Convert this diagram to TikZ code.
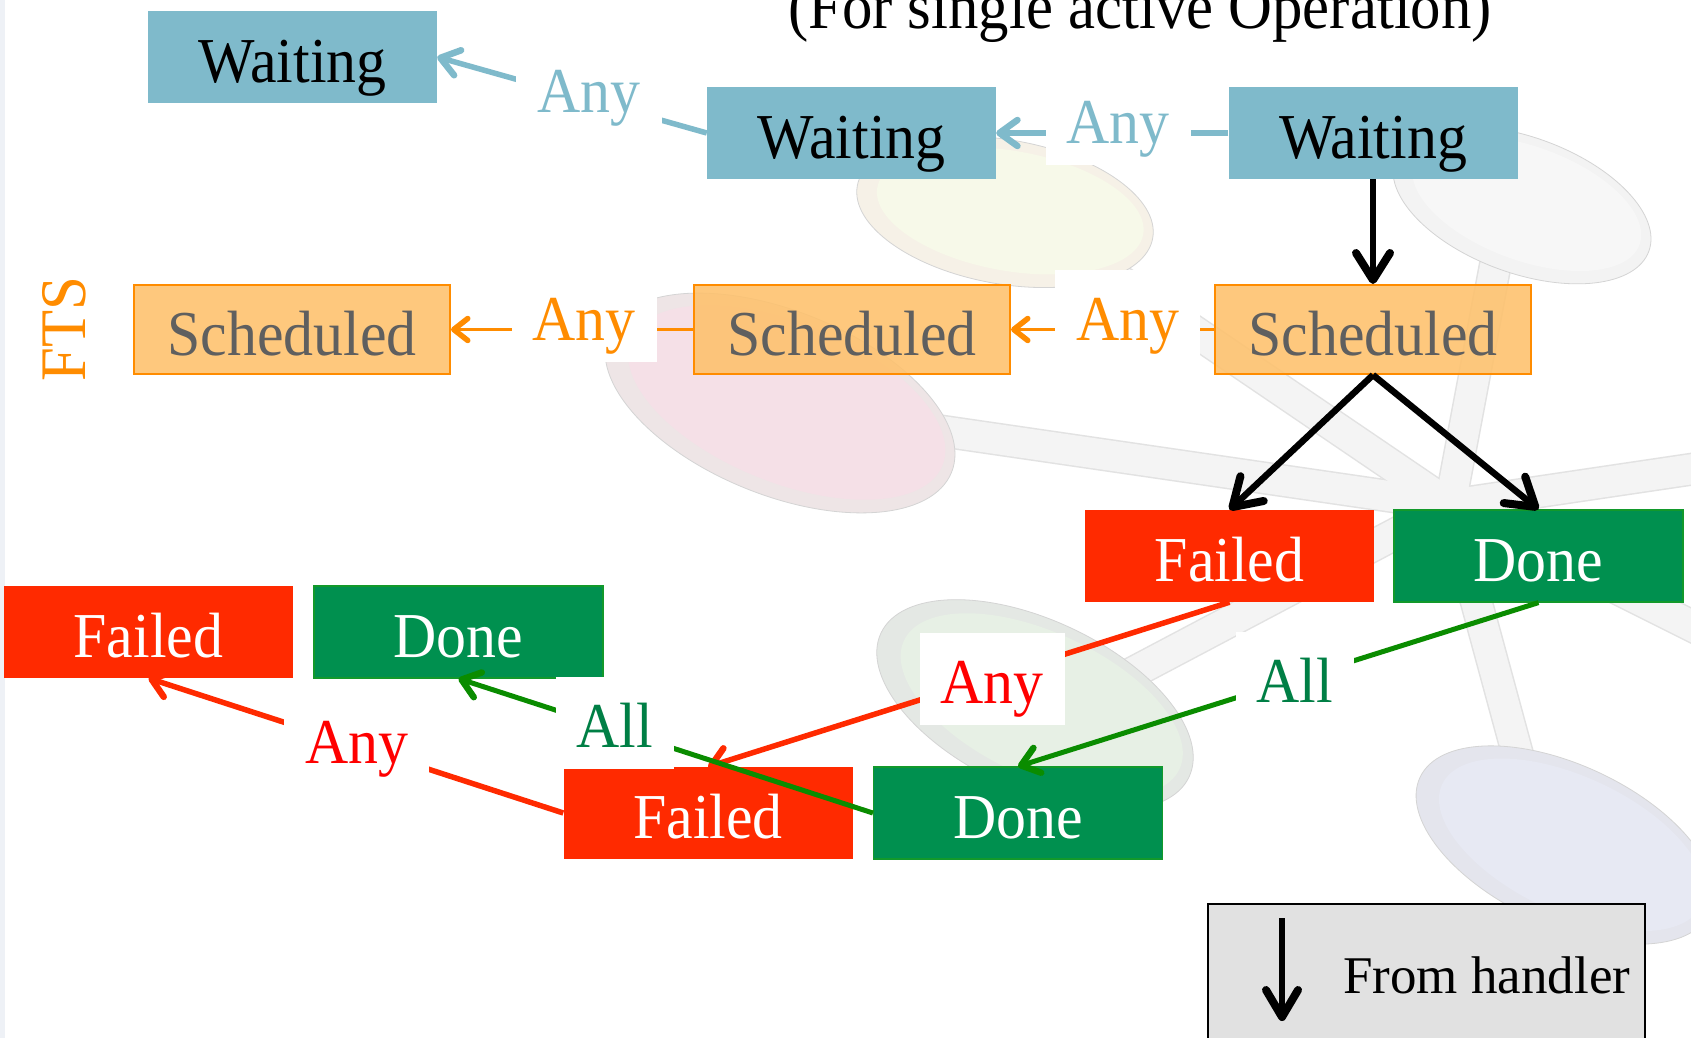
\documentclass[tikz,border=0pt]{standalone}
\usepackage{fontspec}
\setmainfont[FakeStretch=0.935]{Liberation Serif}
\newfontfamily\legendfont{Liberation Serif}
\usetikzlibrary{arrows.meta}
\definecolor{waitfill}{HTML}{7FBACB}
\definecolor{schedfill}{HTML}{FEC16C}
\definecolor{schedline}{HTML}{FF8C00}
\definecolor{schedtext}{HTML}{5F5F5F}
\definecolor{failfill}{HTML}{FF2A00}
\definecolor{donefill}{HTML}{00904F}
\definecolor{doneline}{HTML}{12992B}
\definecolor{redtxt}{HTML}{FF0000}
\definecolor{greentxt}{HTML}{007F45}
\definecolor{greenline}{HTML}{0A8C00}
\definecolor{legendfill}{HTML}{E1E1E1}
\definecolor{stripcol}{HTML}{EEF1F6}
\definecolor{barline}{HTML}{E2E2E2}
\definecolor{barfill}{HTML}{F4F4F4}
\definecolor{blobline}{HTML}{D4D4D4}
\definecolor{yelring}{RGB}{246,241,231}
\definecolor{yelin}{RGB}{247,249,233}
\definecolor{pinkring}{RGB}{238,229,230}
\definecolor{pinkin}{RGB}{245,224,231}
\definecolor{grayring}{RGB}{243,243,243}
\definecolor{grayin}{RGB}{247,247,247}
\definecolor{grnring}{RGB}{228,232,228}
\definecolor{grnin}{RGB}{231,240,229}
\definecolor{lavring}{RGB}{228,229,237}
\definecolor{lavin}{RGB}{231,233,243}
\tikzset{
  box/.style={rectangle, minimum width=289pt, minimum height=92pt, inner sep=0pt,
    text height=51pt, text depth=0pt, font=\fontsize{64}{64}\selectfont},
  waitbox/.style={box, fill=waitfill, text=black},
  schedbox/.style={box, minimum width=316pt, minimum height=89pt, fill=schedfill,
    fill opacity=0.88, text opacity=1, draw=schedline, line width=2pt, text=schedtext},
  failbox/.style={box, fill=failfill, text=white},
  donebox/.style={box, fill=donefill, draw=doneline, line width=1.2pt, text=white},
  lab/.style={fill=white, inner xsep=21pt, inner ysep=8pt, text height=62pt,
    text depth=14pt, font=\fontsize{64}{64}\selectfont},
  blkarr/.style={draw=black, line width=6.5pt, -{Straight Barb[length=27pt,width=34pt,line width=8pt,round]}},
  bluearr/.style={draw=waitfill, line width=5.5pt, -{Straight Barb[length=18pt,width=26pt,line width=6.5pt,round]}},
  orarr/.style={draw=schedline, line width=3pt, -{Straight Barb[length=14pt,width=22pt,line width=5.5pt,round]}},
  redarr/.style={draw=failfill, line width=5.5pt, -{Straight Barb[length=17pt,width=26pt,line width=6.5pt,round]}},
  grnarr/.style={draw=greenline, line width=5pt, -{Straight Barb[length=17pt,width=26pt,line width=6.5pt,round]}},
  blob/.style={draw=blobline, line width=0.8pt},
}
\begin{document}
\begin{tikzpicture}[x=1pt,y=-1pt]
\useasboundingbox (0,0) rectangle (1691,1038);
\fill[white] (0,0) rectangle (1691,1038);
\fill[stripcol] (0,0) rectangle (5,1038);
% faint background molecule
\coordinate (hub) at (1450,505);
\foreach \ex/\ey in {900/425,1060/240,1500/240,1720/465,1720/640,1530/800,1100/690}
  \draw[line width=33pt, barline] (hub) -- (\ex,\ey);
\foreach \ex/\ey in {900/425,1060/240,1500/240,1720/465,1720/640,1530/800,1100/690}
  \draw[line width=30pt, barfill] (hub) -- (\ex,\ey);
% yellow
\filldraw[blob, fill=yelring, rotate around={-10:(1005,212)}] (1005,212) ellipse [x radius=150, y radius=72];
\fill[yelin, rotate around={-10:(1005,212)}] (1010,210) ellipse [x radius=135, y radius=60];
% pink
\filldraw[blob, fill=pinkring, rotate around={-22:(780,403)}] (780,403) ellipse [x radius=185, y radius=92];
\fill[pinkin, rotate around={-22:(780,403)}] (786,400) ellipse [x radius=168, y radius=80];
% gray top right
\filldraw[blob, fill=grayring, rotate around={-20:(1522,205)}] (1522,205) ellipse [x radius=135, y radius=68];
\fill[grayin, rotate around={-20:(1522,205)}] (1526,202) ellipse [x radius=120, y radius=57];
% green
\filldraw[blob, fill=grnring, rotate around={-25:(1035,705)}] (1035,705) ellipse [x radius=170, y radius=85];
\fill[grnin, rotate around={-25:(1035,705)}] (1041,702) ellipse [x radius=152, y radius=72];
% lavender
\filldraw[blob, fill=lavring, rotate around={-25:(1565,845)}] (1565,845) ellipse [x radius=160, y radius=80];
\fill[lavin, rotate around={-25:(1565,845)}] (1571,842) ellipse [x radius=143, y radius=68];

% title and side label
\node[anchor=base, font=\fontsize{65}{65}\selectfont] (title) at (1140,29) {(For single active Operation)};
\node[rotate=90, anchor=base, text=schedline, font=\fontsize{65}{65}\selectfont] (fts) at (85,329) {FTS};

% state boxes
\node[waitbox] (W1) at (292.5,57) {Waiting};
\node[waitbox] (W2) at (851.5,133) {Waiting};
\node[waitbox] (W3) at (1373,133) {Waiting};
\node[schedbox] (S1) at (292,329.5) {Scheduled};
\node[schedbox] (S2) at (852,329.5) {Scheduled};
\node[schedbox] (S3) at (1373,329.5) {Scheduled};
\node[failbox] (F1) at (1229.5,556) {Failed};
\node[donebox] (D1) at (1538.5,556) {Done};
\node[failbox] (F2) at (708,813) {Failed};
\node[donebox] (D2) at (1018,813) {Done};
\node[failbox] (F3) at (148.5,632) {Failed};
\node[donebox] (D3) at (458.5,632) {Done};

% connectors
\draw[blkarr] (W3.south) -- (S3.north);
\draw[blkarr] (S3.south) -- (F1.north);
\draw[blkarr] (S3.south) -- (D1.north);
\draw[bluearr] (W3.west) -- node[lab, text=waitfill, pos=0.474, yshift=14pt] (la1) {Any} (W2.east);
\draw[bluearr] (W2.west) -- node[lab, text=waitfill, pos=0.437, yshift=11pt] (la2) {Any} (W1.east);
\draw[orarr] (S3.west) -- node[lab, text=schedline, pos=0.424, yshift=13.5pt] (la3) {Any} (S2.east);
\draw[orarr] (S2.west) -- node[lab, text=schedline, pos=0.45, yshift=13.5pt] (la4) {Any} (S1.east);
\draw[redarr] (F1.south) -- node[lab, text=redtxt, pos=0.455, yshift=-2pt] (la5) {Any} (F2.north);
\draw[grnarr] (D1.south) -- node[lab, text=greentxt, pos=0.468, yshift=1pt] (la6) {All} (D2.north);
\draw[grnarr] (D2.west) -- node[lab, text=greentxt, pos=0.623, yshift=6pt] (la7) {All} (D3.south);
\draw[redarr] (F2.west) -- node[lab, text=redtxt, pos=0.498, yshift=6pt] (la8) {Any} (F3.south);

% legend
\node[draw=black, line width=2pt, fill=legendfill, minimum width=437pt, minimum height=147pt, inner sep=0pt] (legend) at (1426.5,977.5) {};
\coordinate (lga) at (1282,918);
\coordinate (lgb) at (1282,1021);
\draw[draw=black, line width=5.5pt, -{Straight Barb[length=27pt,width=32pt,line width=8pt,round]}] (lga) -- (lgb);
\node[anchor=base west, inner sep=0pt, font=\legendfont\fontsize{53}{53}\selectfont] (lgtext) at (1343,993) {From handler};
\end{tikzpicture}
\end{document}
